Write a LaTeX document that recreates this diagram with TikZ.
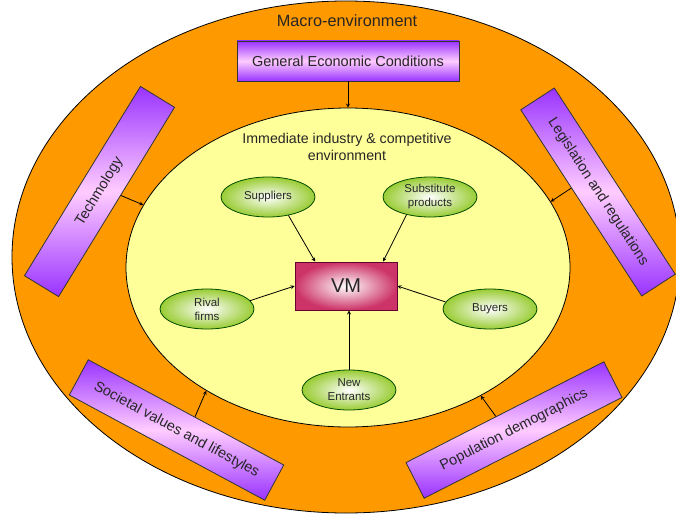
\documentclass[tikz,border=0pt]{standalone}
\usepackage{fontspec}
\setmainfont{Liberation Sans}
\usetikzlibrary{arrows, calc, shapes.geometric}

\definecolor{macroorange}{HTML}{FF9900}
\definecolor{microyellow}{HTML}{FFFF99}
\definecolor{boxviolet}{HTML}{9933FF}
\definecolor{boxpink}{HTML}{FFCCFF}
\definecolor{playergreen}{HTML}{99CC33}
\definecolor{vmred}{HTML}{CC3366}
\definecolor{vmdark}{HTML}{660033}

\begin{document}
\begin{tikzpicture}[
    x=1pt, y=-1pt,
    ->,
    >=stealth,
    line width=0.8pt,
    every node/.style={text=black!85},
    force/.style={draw=black!80, inner sep=0pt,
        minimum width=222pt, minimum height=40pt,
        top color=boxviolet, bottom color=boxviolet, middle color=boxpink,
        font=\fontsize{14.5}{17}\selectfont},
    player/.style={ellipse, draw=black!70!green, inner sep=0pt,
        minimum width=94pt, minimum height=40pt,
        inner color=white, outer color=playergreen,
        align=center, font=\fontsize{11.5}{14}\selectfont},
]
    \useasboundingbox (0,0) rectangle (676,516);

    % the two environments
    \node[ellipse, draw, fill=macroorange, minimum width=668pt, minimum height=512pt] (macro) at (346,257) {};
    \node[font=\fontsize{16.3}{19}\selectfont] (macrotitle) at (347,21) {Macro-environment};
    \node[ellipse, draw, fill=microyellow, inner sep=0pt, minimum width=444pt, minimum height=319pt] (micro) at (348,267.5) {};
    \node[align=center, font=\fontsize{14.2}{17}\selectfont] (microtitle) at (347,146.5) {Immediate industry \& competitive\\environment};

    % macro forces
    \node[force]              (gec)   at (348,61)      {General Economic Conditions};
    \node[force, rotate=58.5] (tech)  at (99.5,191.5)  {Techmology};
    \node[force, rotate=-57]  (legis) at (598,192)     {Legislation and regulations};
    \node[force, rotate=-28.3] (soc)  at (176.5,430)   {Societal values and lifestyles};
    \node[force, rotate=27]   (pop)   at (514,430)     {Population demographics};

    % industry players
    \node[draw=vmdark, minimum width=102pt, minimum height=48pt,
          inner color=white, outer color=vmred,
          font=\fontsize{20}{24}\selectfont] (vm) at (346,286) {VM};
    \node[player] (sup)    at (268,197) {Suppliers};
    \node[player] (subst)  at (430,197) {Substitute\\products};
    \node[player] (rival)  at (207,309) {Rival\\firms};
    \node[player] (buy)    at (490,309) {Buyers};
    \node[player] (newent) at (349,390) {New\\Entrants};

    \draw (gec.south) -- (micro.north);
    \draw ($(tech.south)!0.07!(tech.south east)$) -- (micro.163.9);
    \draw ($(legis.south)!0.16!(legis.south west)$) -- (micro.18);
    \draw ($(soc.north)!0.09!(soc.north east)$) -- (micro.221.2);
    \draw ($(pop.north)!0.09!(pop.north west)$) -- (micro.316.6);

    \draw (sup.-42) -- ($(vm.north west)!0.2!(vm.north east)$);
    \draw (subst.-143.5) -- ($(vm.north west)!0.86!(vm.north east)$);
    \draw (rival.11.3) -- (vm.west);
    \draw (buy.171) -- (vm.east);
    \draw (newent.north) -- (newent.north |- vm.south);
\end{tikzpicture}
\end{document}
